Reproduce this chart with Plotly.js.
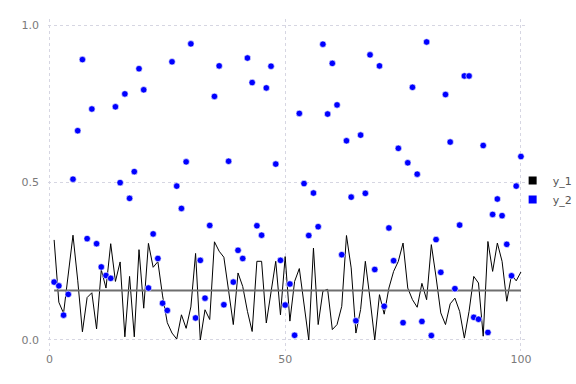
<!DOCTYPE html>
<html>
<head>
<meta charset="utf-8">
<script src="https://cdn.plot.ly/plotly-3.0.1.min.js"></script>
<style>html,body{margin:0;padding:0;background:#fff;}#chart{width:576px;height:384px;}</style>
</head>
<body>
<div id="chart"></div>
<script>
const xs = Array.from({length: 100}, (_, i) => i + 1);
const y1 = [0.318,0.12,0.085,0.2,0.333,0.19,0.026,0.135,0.15,0.035,
0.223,0.165,0.306,0.186,0.248,0.01,0.202,0.01,0.287,0.101,
0.307,0.231,0.249,0.14,0.055,0.022,0.003,0.08,0.037,0.105,
0.275,0.0,0.096,0.065,0.312,0.282,0.263,0.157,0.049,0.213,
0.17,0.091,0.027,0.25,0.25,0.054,0.154,0.25,0.08,0.265,
0.06,0.186,0.227,0.112,0.0,0.292,0.049,0.155,0.161,0.033,
0.049,0.107,0.332,0.229,0.022,0.097,0.25,0.13,0.0,0.144,
0.082,0.165,0.218,0.25,0.308,0.165,0.128,0.104,0.18,0.128,
0.303,0.2,0.086,0.049,0.115,0.133,0.091,0.006,0.091,0.202,
0.181,0.012,0.313,0.218,0.308,0.25,0.123,0.207,0.188,0.216];
const y2 = [0.184,0.172,0.079,0.145,0.511,0.665,0.891,0.322,0.734,0.306,
0.232,0.205,0.196,0.741,0.5,0.782,0.45,0.535,0.862,0.795,
0.165,0.337,0.259,0.117,0.094,0.884,0.489,0.418,0.566,0.941,
0.070,0.253,0.133,0.364,0.774,0.871,0.112,0.568,0.184,0.285,
0.259,0.896,0.818,0.363,0.333,0.801,0.870,0.559,0.253,0.111,
0.178,0.015,0.720,0.497,0.332,0.467,0.360,0.940,0.718,0.879,
0.747,0.271,0.633,0.454,0.061,0.651,0.466,0.906,0.224,0.871,
0.107,0.356,0.252,0.609,0.055,0.563,0.803,0.527,0.059,0.947,
0.014,0.319,0.215,0.780,0.629,0.163,0.365,0.839,0.839,0.072,
0.066,0.618,0.024,0.399,0.448,0.395,0.304,0.204,0.489,0.583];
const meanLevel = [0.157];
const names = ['y_1', 'y_2'];
const colors = ['#000000', '#0000ff'];
const xTicks = [0, 50, 100];
const yTicks = [0, 0.5, 1.0];
const yTickText = ['0.0', '0.5', '1.0'];

const traces = [
  {x: xs, y: y1, mode: 'lines', line: {color: colors[0], width: 1}, showlegend: false, hoverinfo: 'skip'},
  {x: [xs[0], xs[xs.length-1]], y: [meanLevel[0], meanLevel[0]], mode: 'lines', line: {color: '#6e6e6e', width: 2}, showlegend: false, hoverinfo: 'skip'},
  {x: xs, y: y2, mode: 'markers', marker: {color: colors[1], size: 6.5, line: {color: '#ffffff', width: 0.6}}, showlegend: false, hoverinfo: 'skip'},
  {x: [null], y: [null], mode: 'markers', name: names[0], marker: {color: colors[0], symbol: 'square', size: 8}},
  {x: [null], y: [null], mode: 'markers', name: names[1], marker: {color: colors[1], symbol: 'square', size: 8}}
];

const axisFont = {family: 'DejaVu Sans, sans-serif', size: 11, color: '#7a7a7a'};
const layout = {
  width: 576, height: 384,
  margin: {l: 48, r: 48, t: 19, b: 33, pad: 0, autoexpand: false},
  paper_bgcolor: '#ffffff', plot_bgcolor: '#ffffff',
  showlegend: true,
  legend: {xref: 'container', yref: 'container', x: 0.89, y: 0.505, xanchor: 'left', yanchor: 'middle',
    font: {family: 'DejaVu Sans, sans-serif', size: 11, color: '#555555'}, itemwidth: 30, tracegroupgap: 0, bgcolor: 'rgba(0,0,0,0)'},
  xaxis: {
    range: [-0.3, 101.5], tickvals: xTicks, ticktext: xTicks.map(String),
    showgrid: true, gridcolor: '#d6d6e2', griddash: 'dot', gridwidth: 1,
    zeroline: false, showline: false, ticks: '', tickfont: axisFont
  },
  yaxis: {
    range: [-0.035, 1.02], tickvals: yTicks, ticktext: yTickText,
    showgrid: true, gridcolor: '#d6d6e2', griddash: 'dot', gridwidth: 1,
    zeroline: false, showline: false, ticks: '', tickfont: axisFont, ticklabelstandoff: 8
  }
};
Plotly.newPlot('chart', traces, layout, {staticPlot: true, displayModeBar: false});
</script>
</body>
</html>
